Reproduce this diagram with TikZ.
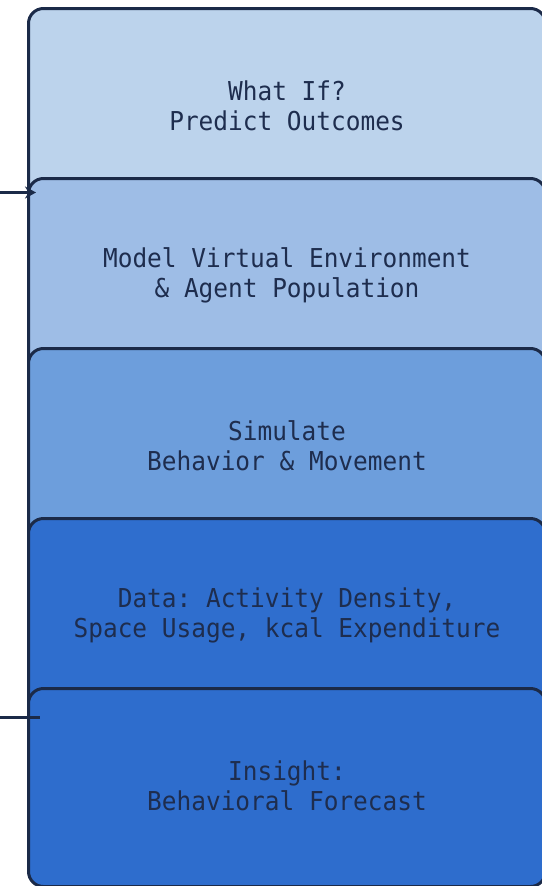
\documentclass[tikz,border=0pt]{standalone}
\usepackage{fontspec}
\setmonofont[FakeStretch=0.94]{DejaVu Sans Mono}
\usetikzlibrary{arrows.meta}
\definecolor{edge}{HTML}{1B2A48}
\definecolor{ink}{HTML}{1E2D4E}
\definecolor{fillA}{HTML}{BCD3EC}
\definecolor{fillB}{HTML}{9EBDE6}
\definecolor{fillC}{HTML}{6D9EDC}
\definecolor{fillD}{HTML}{2F6ECE}
\definecolor{fillE}{HTML}{2E6DCD}
\tikzset{
  stage/.style={draw=edge, line width=3pt, rounded corners=15pt,
    minimum width=517pt, minimum height=198pt, anchor=north west,
    inner sep=0pt, align=center, text=ink,
    font=\ttfamily\fontsize{26pt}{30pt}\selectfont},
  label/.style={align=center, text=ink, inner sep=0pt,
    font=\ttfamily\fontsize{26pt}{30pt}\selectfont},
  feed/.style={draw=edge, line width=2.5pt},
}
\begin{document}
\begin{tikzpicture}[x=1pt, y=-1pt]
\useasboundingbox (0,0) rectangle (541,886);
% stacked stages, each one overlapping the previous
\node[stage, fill=fillA] (b1) at (27,7)   {};
\node[stage, fill=fillB] (b2) at (27,177) {};
\node[stage, fill=fillC] (b3) at (27,347) {};
\node[stage, fill=fillD] (b4) at (27,517) {};
\node[stage, fill=fillE] (b5) at (27,687) {};
% stage captions, set slightly above each box centre
\node[label] (t1) at ([yshift=2pt]b1.center) {What If?\\Predict Outcomes};
\node[label] (t2) at ([yshift=2pt]b2.center) {Model Virtual Environment\\\& Agent Population};
\node[label] (t3) at ([yshift=2pt]b3.center) {Simulate\\Behavior \& Movement};
\node[label] (t4) at ([yshift=2pt]b4.center) {Data: Activity Density,\\Space Usage, kcal Expenditure};
\node[label] (t5) at ([yshift=2pt]b5.center) {Insight:\\Behavioral Forecast};
% feedback lines entering from the left
\coordinate (in1) at (0,192.5);
\coordinate (in2) at (0,717.5);
\draw[feed, -{Stealth[length=11pt,width=12pt]}] (in1) -- ([xshift=9pt]in1 -| b2.west);
\draw[feed] (in2) -- ([xshift=13pt]in2 -| b5.west);
\end{tikzpicture}
\end{document}
